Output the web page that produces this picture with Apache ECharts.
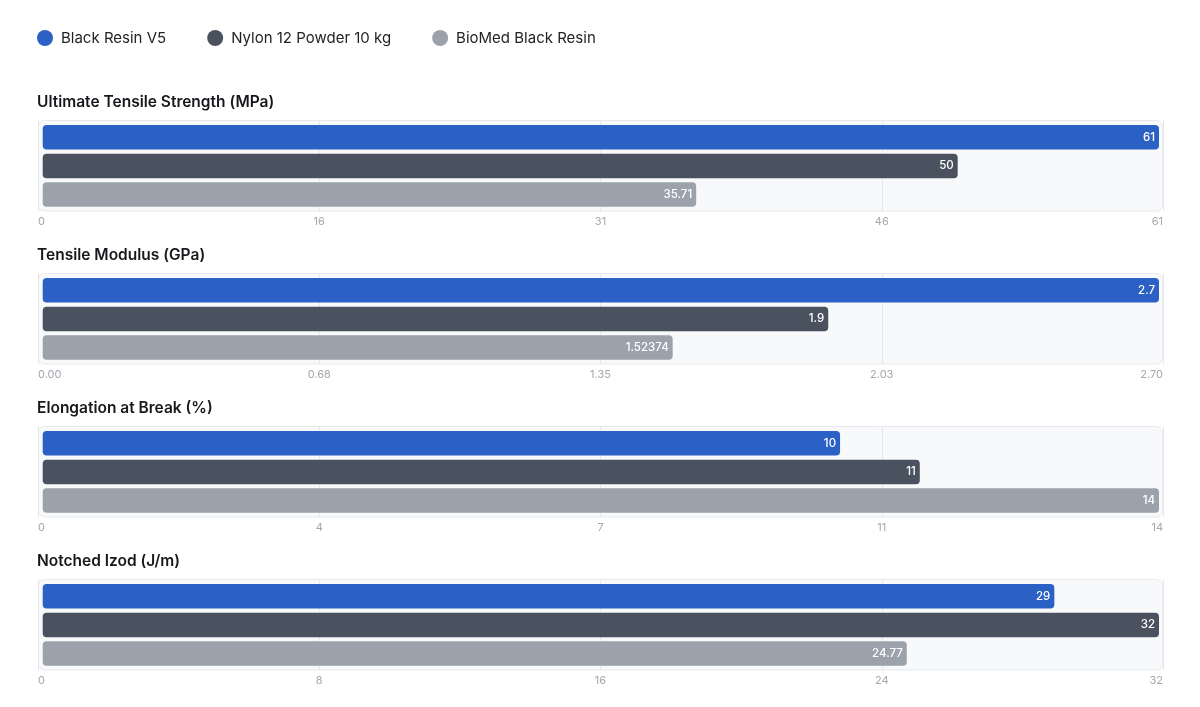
<!DOCTYPE html>
<html>
<head>
<meta charset="utf-8">
<script src="https://cdn.jsdelivr.net/npm/echarts@6/dist/echarts.min.js"></script>
<style>
html,body{margin:0;padding:0;background:#fff;}
#c{width:1200px;height:707px;}
</style>
</head>
<body>
<div id="c"></div>
<script>
const materials = ['Black Resin V5', 'Nylon 12 Powder 10 kg', 'BioMed Black Resin'];
const colors = ['#2b60c4', '#4b525f', '#9ca2ac'];
const panelTitles = ['Ultimate Tensile Strength (MPa)', 'Tensile Modulus (GPa)', 'Elongation at Break (%)', 'Notched Izod (J/m)'];
const tensileStrength = [61, 50, 35.71];
const tensileModulus = [2.7, 1.9, 1.52374];
const elongation = [10, 11, 14];
const izod = [29, 32, 24.77];
const panelValues = [tensileStrength, tensileModulus, elongation, izod];
const panelMax = [61, 2.7, 14, 32];
const ticksStrength = ['0', '16', '31', '46', '61'];
const ticksModulus = ['0.00', '0.68', '1.35', '2.03', '2.70'];
const ticksElongation = ['0', '4', '7', '11', '14'];
const ticksIzod = ['0', '8', '16', '24', '32'];
const panelTicks = [ticksStrength, ticksModulus, ticksElongation, ticksIzod];

const FONT = 'Inter, "Noto Sans", sans-serif';
const chart = echarts.init(document.getElementById('c'), null, {renderer: 'canvas'});

const cardLeft = 38, cardRight = 1163, cardH = 91.5, firstTop = 120, step = 153;
const grid = [], xAxis = [], yAxis = [], series = [], title = [], graphic = [];

panelTitles.forEach((t, p) => {
  const top = firstTop + p * step;
  graphic.push({
    type: 'rect', z: -10,
    shape: {x: cardLeft + 0.5, y: top + 0.5, width: cardRight - cardLeft - 1, height: cardH - 1, r: 6},
    style: {fill: '#f8f9fb', stroke: '#e7e9ec', lineWidth: 1}
  });
  title.push({
    text: t, left: cardLeft - 1, top: top - 26, padding: 0,
    textStyle: {fontFamily: FONT, fontSize: 15.5, fontWeight: 600, color: '#16181c'}
  });
  grid.push({left: cardLeft, right: 1200 - cardRight, top: top, height: cardH});
  xAxis.push({
    gridIndex: 2 * p, type: 'value', min: 0, max: 4, interval: 1,
    axisLine: {show: false}, axisTick: {show: false},
    splitLine: {show: true, lineStyle: {color: '#e6e8eb', width: 1}},
    axisLabel: {
      show: true, margin: 5, color: '#a3a7ae', fontSize: 11, fontFamily: FONT,
      alignMinLabel: 'left', alignMaxLabel: 'right',
      formatter: (v, i) => panelTicks[p][Math.round(v)]
    }
  });
  yAxis.push({gridIndex: 2 * p, type: 'category', data: ['a'], show: false});
  grid.push({left: 42.7, right: 1200 - 1159, top: top + 2.9, height: 86.1});
  xAxis.push({gridIndex: 2 * p + 1, type: 'value', min: 0, max: panelMax[p], show: false, splitLine: {show: false}});
  yAxis.push({gridIndex: 2 * p + 1, type: 'category', data: ['v'], inverse: true, show: false});
  materials.forEach((m, k) => {
    series.push({
      name: m, type: 'bar', xAxisIndex: 2 * p + 1, yAxisIndex: 2 * p + 1,
      data: [panelValues[p][k]],
      barWidth: 24.5, barGap: '17%',
      itemStyle: {color: colors[k], borderRadius: 4},
      label: {
        show: true, position: 'insideRight', distance: 4,
        color: '#ffffff', fontSize: 11.5, fontWeight: 500, fontFamily: FONT
      },
      silent: true, animation: false
    });
  });
});

chart.setOption({
  animation: false,
  backgroundColor: '#ffffff',
  textStyle: {fontFamily: FONT},
  title: title,
  legend: {
    data: materials, left: 37, top: 30, padding: 0, icon: 'circle',
    itemWidth: 16, itemHeight: 16, itemGap: 41,
    textStyle: {fontFamily: FONT, fontSize: 15, color: '#222428', padding: [0, 0, 0, 3]}
  },
  graphic: graphic,
  grid: grid, xAxis: xAxis, yAxis: yAxis, series: series
});
</script>
</body>
</html>
